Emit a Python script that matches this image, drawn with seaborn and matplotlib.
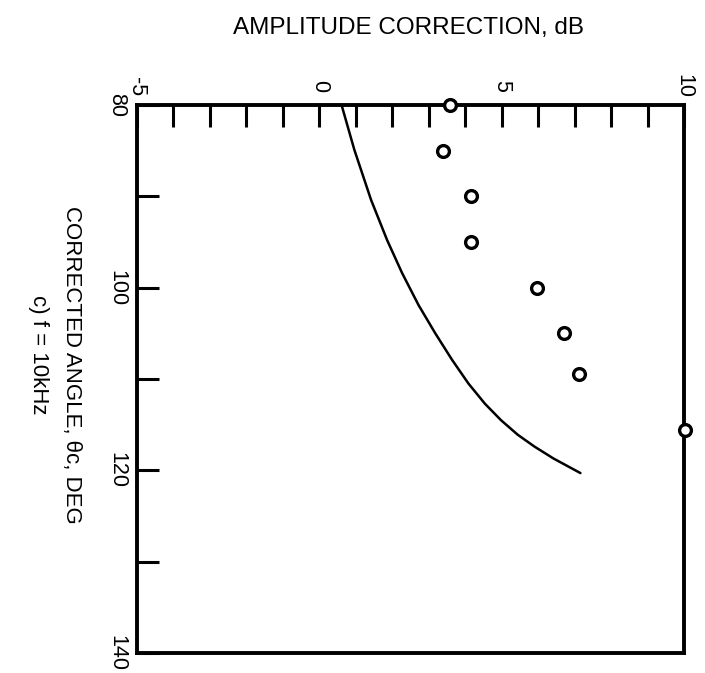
import numpy as np
import pandas as pd
import matplotlib
matplotlib.use("Agg")
import matplotlib.pyplot as plt
import seaborn as sns

# ---- data ----
curve_angle = [80.0, 84.9, 90.4, 94.8, 98.4, 101.9, 105.0, 107.9, 110.5,
               112.7, 114.5, 116.1, 117.4, 118.7, 120.3]
curve_db = [0.61, 0.96, 1.42, 1.86, 2.27, 2.72, 3.18, 3.64, 4.09,
            4.54, 4.98, 5.44, 5.90, 6.42, 7.16]

meas_angle = [80, 85, 90, 95, 100, 105, 109.5, 115.6]
meas_db = [3.57, 3.38, 4.15, 4.15, 5.96, 6.70, 7.12, 10.03]

db_ticks = list(range(-5, 11))
db_ticklabels = ["-5", "", "", "", "", "0", "", "", "", "", "5", "", "", "", "", "10"]
angle_ticks = [80, 90, 100, 110, 120, 130, 140]
angle_ticklabels = ["80", "", "100", "", "120", "", "140"]

x_label = "AMPLITUDE CORRECTION, dB"
y_label = "CORRECTED ANGLE, θc, DEG"
subtitle = "c) f = 10kHz"

# ---- style ----
sns.set_style("ticks")
plt.rcParams["font.family"] = ["Liberation Sans", "DejaVu Sans"]
plt.rcParams["text.color"] = "black"
plt.rcParams["axes.labelcolor"] = "black"
plt.rcParams["xtick.color"] = "black"
plt.rcParams["ytick.color"] = "black"
plt.rcParams["axes.linewidth"] = 2.8

curve_df = pd.DataFrame({"db": curve_db, "angle": curve_angle})
meas_df = pd.DataFrame({"db": meas_db, "angle": meas_angle})

fig = plt.figure(figsize=(7.05, 6.73), dpi=100)
ax = fig.add_axes([0.1943, 0.0297, 0.7759, 0.8143])

sns.lineplot(data=curve_df, x="db", y="angle", sort=False, color="black",
             linewidth=1.8, ax=ax, zorder=3)
sns.scatterplot(data=meas_df, x="db", y="angle", marker="o", s=72,
                facecolor="white", edgecolor="black", linewidth=2.4,
                ax=ax, zorder=5, clip_on=False)

ax.set_xlim(-5, 10)
ax.set_ylim(140, 80)

ax.xaxis.tick_top()
ax.set_xticks(db_ticks)
ax.set_xticklabels(db_ticklabels)
ax.set_yticks(angle_ticks)
ax.set_yticklabels(angle_ticklabels)

ax.tick_params(axis="both", direction="in", length=16, width=2.2,
               color="black", labelsize=15.5, labelcolor="black")
ax.tick_params(axis="x", pad=13.5, top=True, bottom=False)
ax.tick_params(axis="y", pad=14.5, left=True, right=False)

for t in ax.get_xticklabels():
    t.set_rotation(-90)
    t.set_verticalalignment("center")
    t.set_horizontalalignment("center")
for t in ax.get_yticklabels():
    t.set_rotation(-90)
    t.set_verticalalignment("center")
    t.set_horizontalalignment("center")

for sp in ax.spines.values():
    sp.set_visible(True)
    sp.set_color("black")
    sp.set_linewidth(2.8)

ax.xaxis.set_label_position("top")
ax.set_xlabel(x_label, fontsize=17.5, va="center", ha="center", color="black")
ax.xaxis.set_label_coords(0.497, 1.141)
ax.set_ylabel(y_label, fontsize=16, rotation=-90, va="center", ha="center",
              color="black")
ax.yaxis.set_label_coords(-0.119, 0.526)

fig.text(38 / 705, 1 - 355 / 673, subtitle, fontsize=16, rotation=-90,
         ha="center", va="center", color="black")

fig.savefig("out.png", dpi=100)
